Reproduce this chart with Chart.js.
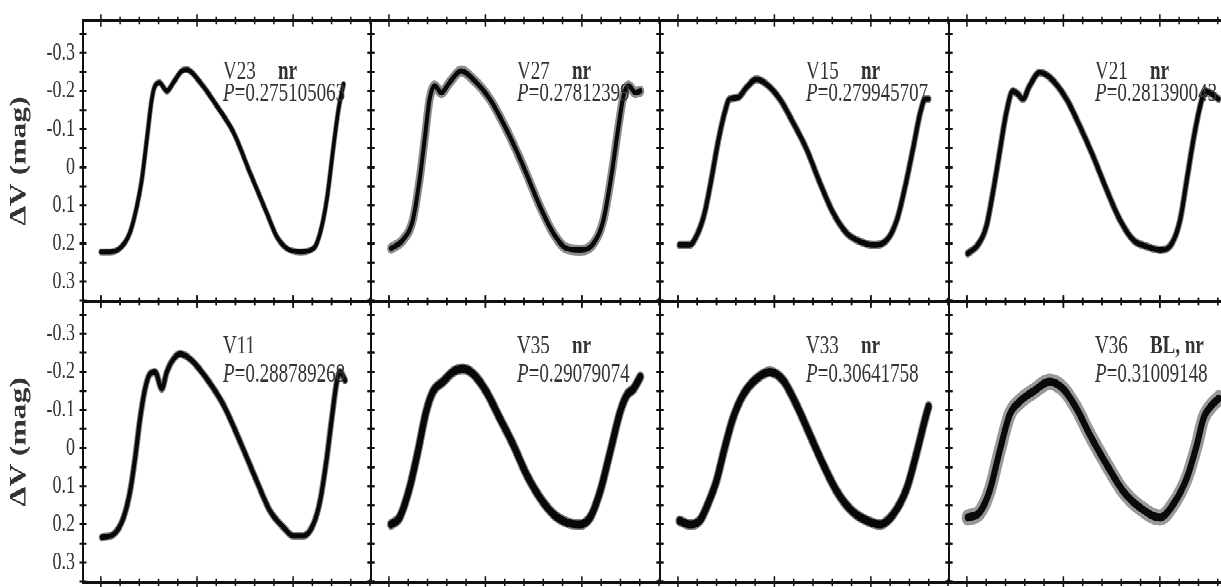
<!DOCTYPE html>
<html>
<head>
<meta charset="utf-8">
<script src="https://cdn.jsdelivr.net/npm/chart.js@4.4.1/dist/chart.umd.min.js"></script>
<style>
  html, body { margin: 0; padding: 0; background: #fff; }
  body { width: 1221px; height: 587px; overflow: hidden; }
  /* the source figure is stretched vertically, so the whole panel grid is drawn flat then scaled */
  #fig { position: relative; width: 1221px; height: 428.5px; overflow: hidden;
         transform: scaleY(1.37); transform-origin: 0 0; }
  #fig canvas { position: absolute; }
</style>
</head>
<body>
<div id="fig"></div>
<script>
// ---- data: phase vs ΔV (mag) ----
const stars   = ["V23", "V27", "V15", "V21", "V11", "V35", "V33", "V36"];
const flags   = ["nr", "nr", "nr", "nr", "", "nr", "nr", "BL, nr"];
const periods = ["0.275105063", "0.27812399", "0.279945707", "0.281390043",
                 "0.288789268", "0.29079074", "0.30641758", "0.31009148"];

const v23 = [[0.00,0.222],[0.05,0.222],[0.10,0.212],[0.15,0.173],[0.187,0.103],[0.213,0.032],[0.239,-0.073],
  [0.265,-0.179],[0.282,-0.214],[0.305,-0.222],[0.343,-0.200],[0.378,-0.223],[0.421,-0.253],[0.447,-0.256],
  [0.516,-0.223],[0.603,-0.161],[0.690,-0.091],[0.776,0.015],[0.863,0.120],[0.915,0.182],[0.967,0.213],
  [1.036,0.222],[1.106,0.213],[1.140,0.173],[1.175,0.085],[1.210,-0.055],[1.236,-0.152],[1.262,-0.218]];
const v27 = [[0.011,0.213],[0.072,0.191],[0.124,0.138],[0.159,0.032],[0.185,-0.073],[0.211,-0.179],[0.237,-0.214],
  [0.271,-0.196],[0.315,-0.223],[0.375,-0.253],[0.436,-0.231],[0.523,-0.179],[0.609,-0.099],[0.696,-0.003],
  [0.783,0.103],[0.852,0.173],[0.921,0.213],[0.991,0.217],[1.060,0.200],[1.112,0.138],[1.155,0.015],
  [1.190,-0.108],[1.216,-0.188],[1.242,-0.214],[1.277,-0.196],[1.303,-0.200]];
const v15 = [[0.008,0.204],[0.060,0.204],[0.103,0.173],[0.138,0.120],[0.173,0.032],[0.207,-0.064],[0.242,-0.143],
  [0.268,-0.179],[0.311,-0.183],[0.355,-0.209],[0.407,-0.231],[0.459,-0.218],[0.528,-0.179],[0.597,-0.117],
  [0.667,-0.047],[0.736,0.041],[0.805,0.120],[0.875,0.173],[0.944,0.195],[1.013,0.204],[1.083,0.191],
  [1.135,0.138],[1.178,0.050],[1.221,-0.055],[1.256,-0.143],[1.282,-0.179],[1.299,-0.179]];
const v21 = [[0.004,0.226],[0.056,0.204],[0.100,0.156],[0.134,0.068],[0.169,-0.038],[0.204,-0.143],[0.238,-0.200],
  [0.264,-0.192],[0.290,-0.179],[0.325,-0.214],[0.377,-0.249],[0.429,-0.236],[0.516,-0.179],[0.585,-0.108],
  [0.654,-0.029],[0.724,0.059],[0.793,0.138],[0.862,0.191],[0.932,0.208],[1.001,0.217],[1.062,0.200],
  [1.105,0.138],[1.140,0.032],[1.174,-0.073],[1.209,-0.161],[1.235,-0.200],[1.270,-0.192],[1.304,-0.179]];
const v11 = [[0.005,0.234],[0.066,0.226],[0.118,0.182],[0.152,0.113],[0.178,0.026],[0.204,-0.078],[0.230,-0.156],
  [0.256,-0.195],[0.282,-0.200],[0.317,-0.156],[0.343,-0.200],[0.378,-0.234],[0.412,-0.247],[0.464,-0.234],
  [0.551,-0.182],[0.638,-0.113],[0.724,-0.017],[0.811,0.087],[0.880,0.165],[0.950,0.208],[1.001,0.230],
  [1.053,0.230],[1.105,0.200],[1.140,0.139],[1.175,0.026],[1.201,-0.078],[1.227,-0.174],[1.244,-0.200],[1.270,-0.178]];
const v35 = [[0.011,0.200],[0.055,0.182],[0.107,0.104],[0.150,0.009],[0.193,-0.096],[0.228,-0.148],[0.280,-0.174],
  [0.332,-0.200],[0.384,-0.208],[0.436,-0.195],[0.505,-0.148],[0.575,-0.078],[0.644,-0.009],[0.713,0.069],
  [0.783,0.130],[0.852,0.173],[0.921,0.195],[0.991,0.200],[1.043,0.182],[1.095,0.113],[1.147,0.009],
  [1.199,-0.096],[1.233,-0.139],[1.268,-0.156],[1.303,-0.187]];
const v33 = [[0.008,0.191],[0.060,0.200],[0.112,0.191],[0.155,0.147],[0.199,0.087],[0.242,0.000],[0.285,-0.078],
  [0.337,-0.139],[0.407,-0.182],[0.476,-0.200],[0.545,-0.178],[0.615,-0.113],[0.684,-0.035],[0.753,0.043],
  [0.823,0.113],[0.892,0.160],[0.961,0.186],[1.048,0.200],[1.117,0.173],[1.187,0.104],[1.239,0.009],
  [1.282,-0.078],[1.299,-0.109]];
const v36 = [[0.004,0.182],[0.065,0.169],[0.117,0.113],[0.169,0.009],[0.221,-0.087],[0.273,-0.122],[0.342,-0.148],
  [0.429,-0.174],[0.498,-0.156],[0.568,-0.104],[0.637,-0.035],[0.724,0.043],[0.810,0.113],[0.897,0.156],
  [1.001,0.182],[1.070,0.147],[1.140,0.078],[1.192,-0.009],[1.226,-0.078],[1.270,-0.113],[1.304,-0.130]];
const curves = [v23, v27, v15, v21, v11, v35, v33, v36];

// axis ranges (phase, magnitude)
const X_MIN = -0.093, X_MAX = 1.405;
const Y_MIN = -0.385, Y_MAX = 0.352;

// ---- look ----
const INK = "#111";
const TEXT = "#333";
const SERIF = '"Liberation Serif", "DejaVu Serif", serif';
const coreWidth = [3.5, 4, 4, 4, 4, 6, 6, 6];
const bandWidth = [5, 8, 6, 6, 6, 8, 8, 12];
const bandAlpha = [0.5, 0.45, 0.5, 0.5, 0.5, 0.5, 0.5, 0.4];
const colLeft = [83, 371, 660, 949];
const colWidth = [288, 289, 289, 289];
const rowTop = [15, 220];
const ROW_H = 205;
const PAD = 6;

function yLabel(v) {
  const r = Math.round(v * 20);
  if (r % 2 !== 0) return "";
  const val = r / 20;
  return val === 0 ? "0" : val.toFixed(1);
}

// crossing tick marks on all four sides of each panel
const frameTicks = {
  id: "frameTicks",
  afterDraw(chart) {
    const { ctx, chartArea: a, scales } = chart;
    ctx.save();
    ctx.strokeStyle = INK;
    ctx.lineWidth = 1.5;
    ctx.beginPath();
    scales.x.ticks.forEach(t => {
      const px = scales.x.getPixelForValue(t.value);
      const major = Math.abs(t.value * 2 - Math.round(t.value * 2)) < 1e-6;
      const h = major ? 4.4 : 2.6;
      [a.top, a.bottom].forEach(py => { ctx.moveTo(px, py - h); ctx.lineTo(px, py + h); });
    });
    scales.y.ticks.forEach(t => {
      const py = scales.y.getPixelForValue(t.value);
      [a.left, a.right].forEach(px => { ctx.moveTo(px - 3.5, py); ctx.lineTo(px + 3.5, py); });
    });
    ctx.stroke();
    ctx.restore();
  }
};

// star name, flag and period in the upper right of each panel
const starLabel = {
  id: "starLabel",
  afterDatasetsDraw(chart, args, o) {
    if (!o || !o.name) return;
    const { ctx, chartArea: a } = chart;
    const x = a.left + o.dx;
    ctx.save();
    ctx.fillStyle = TEXT;
    ctx.textBaseline = "alphabetic";
    ctx.font = "19px " + SERIF;
    ctx.fillText(o.name, x, a.top + o.y1);
    if (o.flag) {
      ctx.font = "bold 19px " + SERIF;
      ctx.fillText(o.flag, x + 55, a.top + o.y1);
    }
    ctx.font = "italic 19px " + SERIF;
    ctx.fillText("P", x, a.top + o.y2);
    const w = ctx.measureText("P").width;
    ctx.font = "19px " + SERIF;
    ctx.fillText("=" + o.period, x + w, a.top + o.y2);
    ctx.restore();
  }
};

function scaleCfg(first) {
  const border = { display: true, color: INK, width: 2 };
  const grid = { display: false, drawTicks: false };
  const xBase = { type: "linear", min: X_MIN, max: X_MAX, border, grid,
    ticks: { display: false, stepSize: 0.1, includeBounds: false },
    afterFit: s => { s.height = 0; } };
  const yBase = { type: "linear", reverse: true, min: Y_MIN, max: Y_MAX, border, grid,
    ticks: { display: false, stepSize: 0.05, includeBounds: false },
    afterFit: s => { s.width = 0; } };
  return {
    x: { ...xBase, position: "bottom" },
    xTop: { ...xBase, position: "top" },
    y: { ...yBase, position: "left",
      ticks: { display: first, stepSize: 0.05, includeBounds: false, autoSkip: false,
               padding: 8, color: TEXT, font: { family: SERIF, size: 18 }, callback: yLabel },
      title: { display: first, text: "ΔV (mag)", color: TEXT,
               font: { family: SERIF, size: 23, weight: "bold" }, padding: { top: 6, bottom: 0 } },
      // keep the plot box fixed: no extra room for the end labels
      afterFit: s => { s.width = first ? 83 : 0; s.paddingTop = 0; s.paddingBottom = 0; } },
    yRight: { ...yBase, position: "right" }
  };
}

const fig = document.getElementById("fig");

stars.forEach((name, i) => {
  const col = i % 4, row = Math.floor(i / 4);
  const first = col === 0;
  const left = first ? 0 : colLeft[col] - PAD;
  const top = rowTop[row] - PAD;
  const w = first ? colLeft[0] + colWidth[0] + PAD : colWidth[col] + 2 * PAD;
  const h = ROW_H + 2 * PAD;

  const cv = document.createElement("canvas");
  cv.width = w; cv.height = h;
  cv.style.left = left + "px"; cv.style.top = top + "px";
  cv.style.width = w + "px"; cv.style.height = h + "px";
  fig.appendChild(cv);

  const pts = curves[i].map(p => ({ x: p[0], y: p[1] }));

  new Chart(cv, {
    type: "scatter",
    data: {
      datasets: [
        { data: pts, showLine: true, pointRadius: 0, borderColor: "rgba(0,0,0," + bandAlpha[i] + ")",
          borderWidth: bandWidth[i], cubicInterpolationMode: "monotone",
          borderCapStyle: "round", borderJoinStyle: "round" },
        { data: pts, showLine: true, pointRadius: 0, borderColor: INK,
          borderWidth: coreWidth[i], cubicInterpolationMode: "monotone",
          borderCapStyle: "round", borderJoinStyle: "round" }
      ]
    },
    options: {
      responsive: false,
      devicePixelRatio: 2,
      animation: false,
      events: [],
      layout: { padding: { top: PAD, bottom: PAD, right: PAD, left: first ? 0 : PAD } },
      scales: scaleCfg(first),
      plugins: {
        legend: { display: false },
        tooltip: { enabled: false },
        starLabel: { name, flag: flags[i], period: periods[i],
                     dx: first ? 140 : 146, y1: row === 0 ? 42.3 : 38, y2: 58.4 }
      }
    },
    plugins: [frameTicks, starLabel]
  });
});
</script>
</body>
</html>
